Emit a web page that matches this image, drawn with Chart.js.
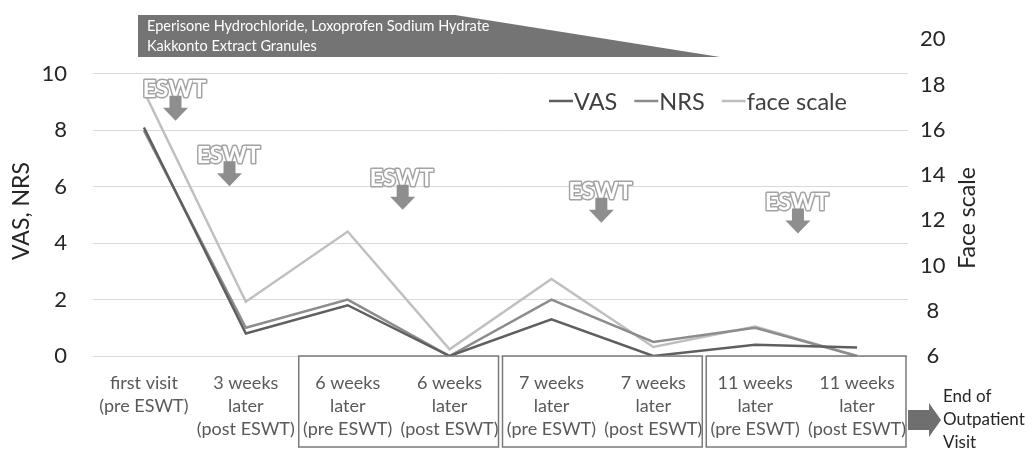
<!DOCTYPE html>
<html><head><meta charset="utf-8">
<script src="https://cdn.jsdelivr.net/npm/chart.js@4.4.0/dist/chart.umd.min.js"></script>
<style>html,body{margin:0;padding:0;background:#fff;overflow:hidden}#wrap{width:1035px;height:449px;position:relative}</style>
</head><body><div id="wrap"><canvas id="c" width="1035" height="449"></canvas></div>
<script>
// ---- data ----
const categories = [
  ['first visit', '(pre ESWT)'],
  ['3 weeks', 'later', '(post ESWT)'],
  ['6 weeks', 'later', '(pre ESWT)'],
  ['6 weeks', 'later', '(post ESWT)'],
  ['7 weeks', 'later', '(pre ESWT)'],
  ['7 weeks', 'later', '(post ESWT)'],
  ['11 weeks', 'later', '(pre ESWT)'],
  ['11 weeks', 'later', '(post ESWT)']
];
const vasValues  = [8.1, 0.8, 1.8, 0, 1.3, 0, 0.4, 0.3];
const nrsValues  = [8.0, 1.0, 2.0, 0, 2.0, 0.5, 1.0, 0];
const faceValues = [17.7, 8.4, 11.5, 6.3, 9.4, 6.4, 7.3, 6.0];
const leftTickValues  = [0, 2, 4, 6, 8, 10];
const rightTickValues = [6, 8, 10, 12, 14, 16, 18, 20];
const seriesNames = ['VAS', 'NRS', 'face scale'];
const leftTitle = 'VAS, NRS';
const rightTitle = 'Face scale';
const bannerLines = ['Eperisone Hydrochloride, Loxoprofen Sodium Hydrate', 'Kakkonto Extract Granules'];
const eswtText = 'ESWT';
const endLines = ['End of', 'Outpatient', 'Visit'];
const boxedPairs = [[2, 3], [4, 5], [6, 7]];

// ---- layout / style (not data) ----
const colors = ['#5f5f5f', '#8c8c8c', '#bfbfbf'];
const FONT = 'Lato, "Open Sans", sans-serif';
// ESWT annotation anchors: fractional category index, left-axis value
const eswtAnchors = [[0.30, 9.44], [0.83, 7.12], [2.53, 6.28], [4.48, 5.82], [6.41, 5.44]];

const deco = {
  id: 'deco',
  afterDraw(chart) {
    const ctx = chart.ctx;
    const xs = chart.scales.x, yl = chart.scales.y;
    const x0 = xs.getPixelForValue(0);
    const step = xs.getPixelForValue(1) - x0;
    const X = f => x0 + f * step;
    ctx.save();

    // banner
    ctx.fillStyle = '#747474';
    ctx.beginPath();
    ctx.moveTo(138, 15); ctx.lineTo(455, 15); ctx.lineTo(720, 57); ctx.lineTo(138, 57);
    ctx.closePath(); ctx.fill();
    ctx.fillStyle = '#ffffff';
    ctx.font = '14.5px ' + FONT;
    ctx.textBaseline = 'middle'; ctx.textAlign = 'left';
    ctx.fillText(bannerLines[0], 147, 26);
    ctx.fillText(bannerLines[1], 147, 46);

    // boxes
    ctx.strokeStyle = '#7a7a7a'; ctx.lineWidth = 1.5;
    boxedPairs.forEach(([a, b]) => {
      const l = X(a) - step / 2 + 2, r = X(b) + step / 2 - 2;
      const t = yl.getPixelForValue(0), btm = 447;
      ctx.strokeRect(l, t, r - l, btm - t);
    });

    // ESWT marks
    eswtAnchors.forEach(([f, v]) => {
      const cx = X(f), cy = yl.getPixelForValue(v);
      ctx.font = 'bold 23px ' + FONT;
      ctx.textAlign = 'center'; ctx.textBaseline = 'middle';
      ctx.lineJoin = 'round';
      ctx.lineWidth = 3; ctx.strokeStyle = '#a3a3a3';
      ctx.strokeText(eswtText, cx, cy);
      ctx.fillStyle = '#ffffff';
      ctx.fillText(eswtText, cx, cy);
      const ax = cx + 1, top = cy + 6;
      ctx.fillStyle = '#8e8e8e';
      ctx.beginPath();
      ctx.moveTo(ax - 6, top); ctx.lineTo(ax + 6, top); ctx.lineTo(ax + 6, top + 12);
      ctx.lineTo(ax + 12.5, top + 12); ctx.lineTo(ax, top + 25); ctx.lineTo(ax - 12.5, top + 12);
      ctx.lineTo(ax - 6, top + 12); ctx.closePath(); ctx.fill();
    });

    // legend
    ctx.font = '23.5px ' + FONT;
    ctx.textAlign = 'left'; ctx.textBaseline = 'middle';
    let lx = 549; const ly = 101;
    seriesNames.forEach((n, i) => {
      ctx.strokeStyle = colors[i]; ctx.lineWidth = 2.5;
      ctx.beginPath(); ctx.moveTo(lx, ly); ctx.lineTo(lx + 24, ly); ctx.stroke();
      ctx.fillStyle = '#404040';
      ctx.fillText(n, lx + 25, ly + 1);
      lx += 25 + ctx.measureText(n).width + 17;
    });

    // axis titles
    ctx.fillStyle = '#262626';
    ctx.font = '23px ' + FONT;
    ctx.textAlign = 'center'; ctx.textBaseline = 'middle';
    ctx.save(); ctx.translate(22, 211); ctx.rotate(-Math.PI / 2); ctx.fillText(leftTitle, 0, 0); ctx.restore();
    ctx.save(); ctx.translate(968, 218); ctx.rotate(-Math.PI / 2); ctx.fillText(rightTitle, 0, 0); ctx.restore();

    // end arrow
    ctx.fillStyle = '#6f6f6f';
    ctx.beginPath();
    ctx.moveTo(908, 410); ctx.lineTo(929, 410); ctx.lineTo(929, 403); ctx.lineTo(941, 420);
    ctx.lineTo(929, 437); ctx.lineTo(929, 430); ctx.lineTo(908, 430); ctx.closePath(); ctx.fill();
    ctx.fillStyle = '#262626';
    ctx.font = '17px ' + FONT;
    ctx.textAlign = 'left'; ctx.textBaseline = 'middle';
    endLines.forEach((t, i) => ctx.fillText(t, 943, 397 + i * 23));
    ctx.restore();
  }
};

const mkLine = (label, data, color, axis) => ({
  label, data, borderColor: color, backgroundColor: color, borderWidth: 2.5,
  pointRadius: 0, pointHoverRadius: 0, tension: 0, fill: false, yAxisID: axis
});

new Chart(document.getElementById('c'), {
  type: 'line',
  data: {
    labels: categories,
    datasets: [
      mkLine(seriesNames[0], vasValues, colors[0], 'y'),
      mkLine(seriesNames[1], nrsValues, colors[1], 'y'),
      mkLine(seriesNames[2], faceValues, colors[2], 'y1')
    ]
  },
  plugins: [deco],
  options: {
    responsive: false, animation: false,
    layout: { padding: { top: 32.8, left: 0, right: 0, bottom: 0 } },
    plugins: { legend: { display: false }, tooltip: { enabled: false } },
    scales: {
      x: {
        offset: true,
        grid: { display: false, drawTicks: false }, border: { display: false },
        ticks: { autoSkip: false, maxRotation: 0, minRotation: 0, padding: 15,
          color: '#595959', font: { family: FONT, size: 18, lineHeight: 1.3 } },
        afterFit(s) { s.height = 93; }
      },
      y: {
        position: 'left', min: 0, max: 11.23,
        afterBuildTicks(s) { s.ticks = leftTickValues.map(v => ({ value: v })); },
        grid: { color: '#d9d9d9', lineWidth: 1, drawTicks: false }, border: { display: false },
        ticks: { padding: 26, color: '#262626', font: { family: FONT, size: 22 } },
        afterFit(s) { s.width = 93; }
      },
      y1: {
        position: 'right', min: 6, max: 20,
        afterBuildTicks(s) { s.ticks = rightTickValues.map(v => ({ value: v })); },
        grid: { display: false, drawTicks: false }, border: { display: false },
        ticks: { padding: 12, crossAlign: 'center', color: '#262626', font: { family: FONT, size: 22 } },
        afterFit(s) { s.width = 127; }
      }
    }
  }
});
</script></body></html>
